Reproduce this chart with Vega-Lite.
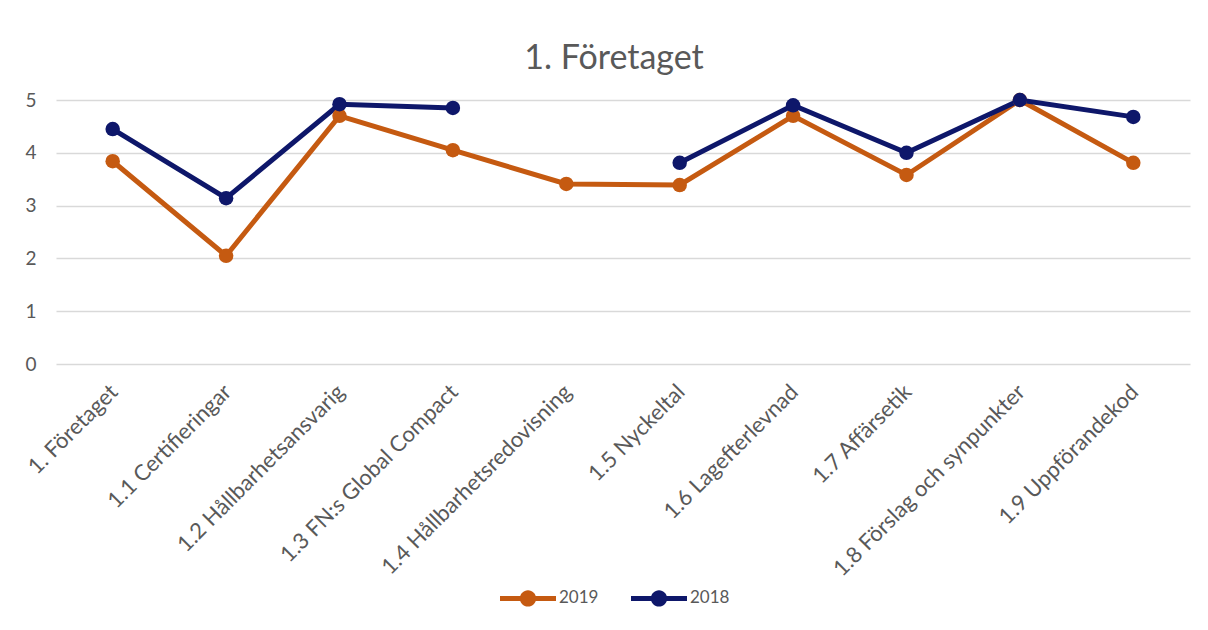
{
  "$schema": "https://vega.github.io/schema/vega-lite/v6.json",
  "autosize": "none",
  "padding": {"left": 56, "top": 100, "right": 18, "bottom": 266},
  "width": 1134,
  "height": 264,
  "background": "white",
  "config": {
    "font": "Lato",
    "view": {"stroke": null}
  },
  "title": {
    "text": "1. Företaget",
    "fontSize": 34,
    "fontWeight": "normal",
    "color": "#595959",
    "font": "Lato",
    "anchor": "middle",
    "dx": -9,
    "offset": 14
  },
  "data": {
    "values": [
      {"category": "1. Företaget", "year": "2019", "value": 3.84},
      {"category": "1.1 Certifieringar", "year": "2019", "value": 2.05},
      {"category": "1.2 Hållbarhetsansvarig", "year": "2019", "value": 4.70},
      {"category": "1.3 FN:s Global Compact", "year": "2019", "value": 4.05},
      {"category": "1.4 Hållbarhetsredovisning", "year": "2019", "value": 3.41},
      {"category": "1.5 Nyckeltal", "year": "2019", "value": 3.39},
      {"category": "1.6 Lagefterlevnad", "year": "2019", "value": 4.70},
      {"category": "1.7 Affärsetik", "year": "2019", "value": 3.58},
      {"category": "1.8 Förslag och synpunkter", "year": "2019", "value": 5.0},
      {"category": "1.9 Uppförandekod", "year": "2019", "value": 3.81},
      {"category": "1. Företaget", "year": "2018", "value": 4.45},
      {"category": "1.1 Certifieringar", "year": "2018", "value": 3.14},
      {"category": "1.2 Hållbarhetsansvarig", "year": "2018", "value": 4.92},
      {"category": "1.3 FN:s Global Compact", "year": "2018", "value": 4.85},
      {"category": "1.4 Hållbarhetsredovisning", "year": "2018", "value": null},
      {"category": "1.5 Nyckeltal", "year": "2018", "value": 3.81},
      {"category": "1.6 Lagefterlevnad", "year": "2018", "value": 4.90},
      {"category": "1.7 Affärsetik", "year": "2018", "value": 4.0},
      {"category": "1.8 Förslag och synpunkter", "year": "2018", "value": 5.0},
      {"category": "1.9 Uppförandekod", "year": "2018", "value": 4.68}
    ]
  },
  "mark": {
    "type": "line",
    "strokeWidth": 5,
    "invalid": "break-paths-show-domains",
    "point": {"filled": true, "size": 210}
  },
  "encoding": {
    "x": {
      "field": "category",
      "type": "nominal",
      "sort": null,
      "scale": {"type": "point", "padding": 0.5},
      "axis": {
        "title": null,
        "labelAngle": -45,
        "labelAlign": "right",
        "labelBaseline": "middle",
        "labelFontSize": 22,
        "labelColor": "#595959",
        "labelFont": "Lato",
        "labelPadding": 24,
        "labelOffset": 1,
        "ticks": false,
        "domain": false,
        "grid": false,
        "labelLimit": 400
      }
    },
    "y": {
      "field": "value",
      "type": "quantitative",
      "scale": {"domain": [0, 5]},
      "axis": {
        "title": null,
        "values": [0, 1, 2, 3, 4, 5],
        "labelFontSize": 19,
        "labelColor": "#595959",
        "labelFont": "Lato",
        "labelPadding": 20,
        "ticks": false,
        "domain": false,
        "gridColor": "#d9d9d9",
        "gridWidth": 1.5
      }
    },
    "color": {
      "field": "year",
      "type": "nominal",
      "sort": ["2019", "2018"],
      "scale": {"domain": ["2019", "2018"], "range": ["#C55A11", "#0E176A"]},
      "legend": {
        "title": null,
        "orient": "none",
        "direction": "horizontal",
        "legendX": 444,
        "legendY": 470,
        "labelFontSize": 17,
        "labelColor": "#595959",
        "labelFont": "Lato",
        "labelOffset": 3,
        "columnPadding": 32,
        "symbolSize": 3136,
        "symbolStrokeWidth": 0,
        "symbolType": "M-1,-0.09L-0.25,-0.09L-0.25,0.09L-1,0.09Z M0.25,-0.09L1,-0.09L1,0.09L0.25,0.09Z M0.29,0A0.29,0.29 0 1,1 -0.29,0A0.29,0.29 0 1,1 0.29,0Z",
        "encode": {
          "symbols": {"update": {"fill": {"scale": "color", "field": "value"}, "strokeWidth": {"value": 0}}}
        }
      }
    }
  }
}
